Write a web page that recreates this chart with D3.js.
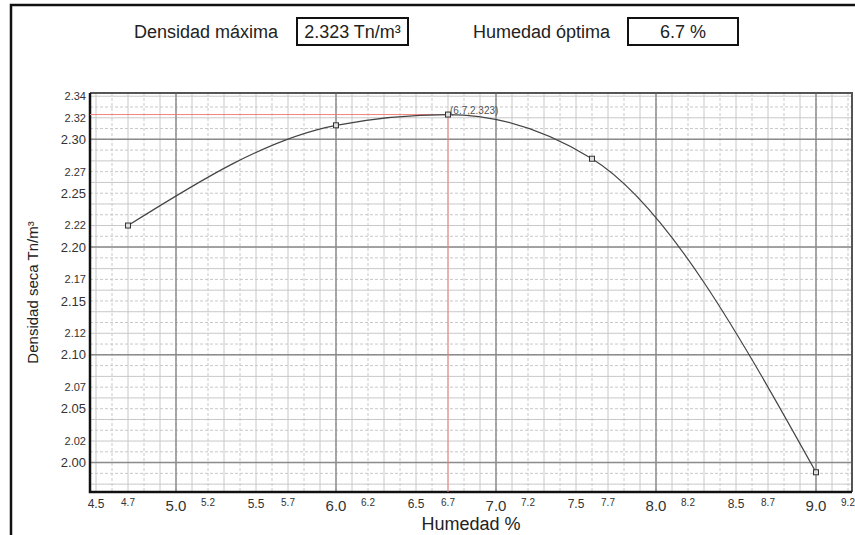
<!DOCTYPE html>
<html>
<head>
<meta charset="utf-8">
<script src="https://cdn.jsdelivr.net/npm/d3@7"></script>
<style>
  body { margin: 0; background: #fff; }
  svg { display: block; font-family: "Liberation Sans", Arial, sans-serif; }
</style>
</head>
<body>
<svg id="chart" width="855" height="535"></svg>
<script>
// ensayo proctor: humedad vs densidad seca
var humedad = [4.7, 6.0, 7.6, 9.0];
var densidad = [2.220, 2.313, 2.282, 1.991];
var humedadOptima = 6.7;
var densidadMaxima = 2.323;

var xTicks = [4.5, 4.7, 5.0, 5.2, 5.5, 5.7, 6.0, 6.2, 6.5, 6.7, 7.0, 7.2, 7.5, 7.7, 8.0, 8.2, 8.5, 8.7, 9.0, 9.2];
var yTicks = [2.00, 2.02, 2.05, 2.07, 2.10, 2.12, 2.15, 2.17, 2.20, 2.22, 2.25, 2.27, 2.30, 2.32, 2.34];

var svg = d3.select('#chart');
var plot = { left: 90, right: 852, top: 93, bottom: 492 };

var x = d3.scaleLinear().domain([4.4625, 9.225]).range([plot.left, plot.right]);
var y = d3.scaleLinear().domain([1.9727, 2.343]).range([plot.bottom, plot.top]);

// outer frame
svg.append('path')
  .attr('d', 'M11,535 V5 H855')
  .attr('fill', 'none')
  .attr('stroke', '#111')
  .attr('stroke-width', 2.5);

// header
function header(label, labelEnd, value, box) {
  svg.append('text')
    .attr('x', labelEnd).attr('y', 38)
    .attr('text-anchor', 'end')
    .attr('font-size', 18)
    .attr('fill', '#222')
    .text(label);
  svg.append('rect')
    .attr('x', box[0]).attr('y', 18)
    .attr('width', box[1] - box[0]).attr('height', 27)
    .attr('fill', '#fff').attr('stroke', '#111').attr('stroke-width', 2);
  svg.append('text')
    .attr('x', (box[0] + box[1]) / 2).attr('y', 38)
    .attr('text-anchor', 'middle')
    .attr('font-size', 18)
    .attr('fill', '#222')
    .text(value);
}
header('Densidad máxima', 278, densidadMaxima.toFixed(3) + ' Tn/m³', [297, 408]);
header('Humedad óptima', 610, humedadOptima + ' %', [628, 738]);

/*
 * grid
 */
var grid = svg.append('g');
var xMinor = d3.range(45, 93).map(function(d) { return d / 10; });
var yMinor = d3.range(198, 235).map(function(d) { return d / 100; });

grid.selectAll('.xm').data(xMinor).enter().append('line')
  .attr('x1', x).attr('x2', x)
  .attr('y1', plot.top).attr('y2', plot.bottom)
  .attr('stroke', '#c8c8c8')
  .attr('stroke-dasharray', function(d, i) { return i % 2 ? '3,2' : null; });

grid.selectAll('.ym').data(yMinor).enter().append('line')
  .attr('x1', plot.left).attr('x2', plot.right)
  .attr('y1', y).attr('y2', y)
  .attr('stroke', '#c8c8c8')
  .attr('stroke-dasharray', function(d, i) { return i % 2 ? '3,2' : null; });

grid.selectAll('.xM').data([5, 6, 7, 8, 9]).enter().append('line')
  .attr('x1', x).attr('x2', x)
  .attr('y1', plot.top).attr('y2', plot.bottom)
  .attr('stroke', '#8c8c8c').attr('stroke-width', 1.5);

grid.selectAll('.yM').data([2.0, 2.1, 2.2, 2.3]).enter().append('line')
  .attr('x1', plot.left).attr('x2', plot.right)
  .attr('y1', y).attr('y2', y)
  .attr('stroke', '#8c8c8c').attr('stroke-width', 1.5);

// plot border
svg.append('path')
  .attr('d', 'M' + plot.left + ',' + plot.top + ' H' + plot.right + ' V' + plot.bottom)
  .attr('fill', 'none').attr('stroke', '#555').attr('stroke-width', 2);
svg.append('path')
  .attr('d', 'M' + plot.left + ',' + plot.top + ' V' + plot.bottom + ' H' + plot.right)
  .attr('fill', 'none').attr('stroke', '#111').attr('stroke-width', 2.5);

// max guide lines (red)
svg.append('path')
  .attr('d', 'M' + plot.left + ',' + y(densidadMaxima) + ' H' + x(humedadOptima) + ' V' + plot.bottom)
  .attr('fill', 'none').attr('stroke', '#f08080').attr('stroke-width', 1);

/*
 * curve
 */
var pts = humedad.map(function(h, i) { return [h, densidad[i]]; });
pts.push([humedadOptima, densidadMaxima]);
pts.sort(function(a, b) { return a[0] - b[0]; });

var line = d3.line()
  .x(function(d) { return x(d[0]); })
  .y(function(d) { return y(d[1]); })
  .curve(d3.curveMonotoneX);

svg.append('path')
  .datum(pts)
  .attr('d', line)
  .attr('fill', 'none')
  .attr('stroke', '#444')
  .attr('stroke-width', 1.2);

svg.selectAll('.pt').data(pts).enter().append('rect')
  .attr('x', function(d) { return x(d[0]) - 2.5; })
  .attr('y', function(d) { return y(d[1]) - 2.5; })
  .attr('width', 5).attr('height', 5)
  .attr('fill', '#ddd').attr('stroke', '#333').attr('stroke-width', 1);

svg.append('text')
  .attr('x', x(humedadOptima) + 2).attr('y', y(densidadMaxima) - 1)
  .attr('font-size', 10).attr('fill', '#555')
  .text('(' + humedadOptima + ',' + densidadMaxima + ')');

/*
 * axes labels
 */
function xSize(d) {
  if (Math.abs(d - Math.round(d)) < 1e-6) return 15;
  if (Math.abs(d * 2 - Math.round(d * 2)) < 1e-6) return 12;
  return 10;
}
function ySize(d) {
  var r = Math.round(d * 100);
  return r % 5 === 0 ? 13 : 11;
}

svg.selectAll('.xt').data(xTicks).enter().append('text')
  .attr('x', x)
  .attr('y', function(d) { return xSize(d) === 15 ? 511 : (xSize(d) === 12 ? 508 : 506); })
  .attr('text-anchor', 'middle')
  .attr('font-size', xSize)
  .attr('fill', '#333')
  .text(function(d) { return d.toFixed(1); });

svg.selectAll('.yt').data(yTicks).enter().append('text')
  .attr('x', 86)
  .attr('y', y)
  .attr('dy', '0.35em')
  .attr('text-anchor', 'end')
  .attr('font-size', ySize)
  .attr('fill', '#333')
  .text(function(d) { return d.toFixed(2); });

svg.append('text')
  .attr('x', 471).attr('y', 530)
  .attr('text-anchor', 'middle')
  .attr('font-size', 18).attr('fill', '#222')
  .text('Humedad %');

svg.append('text')
  .attr('transform', 'translate(38,' + ((plot.top + plot.bottom) / 2) + ') rotate(-90)')
  .attr('text-anchor', 'middle')
  .attr('font-size', 15).attr('fill', '#222')
  .text('Densidad seca Tn/m³');
</script>
</body>
</html>
